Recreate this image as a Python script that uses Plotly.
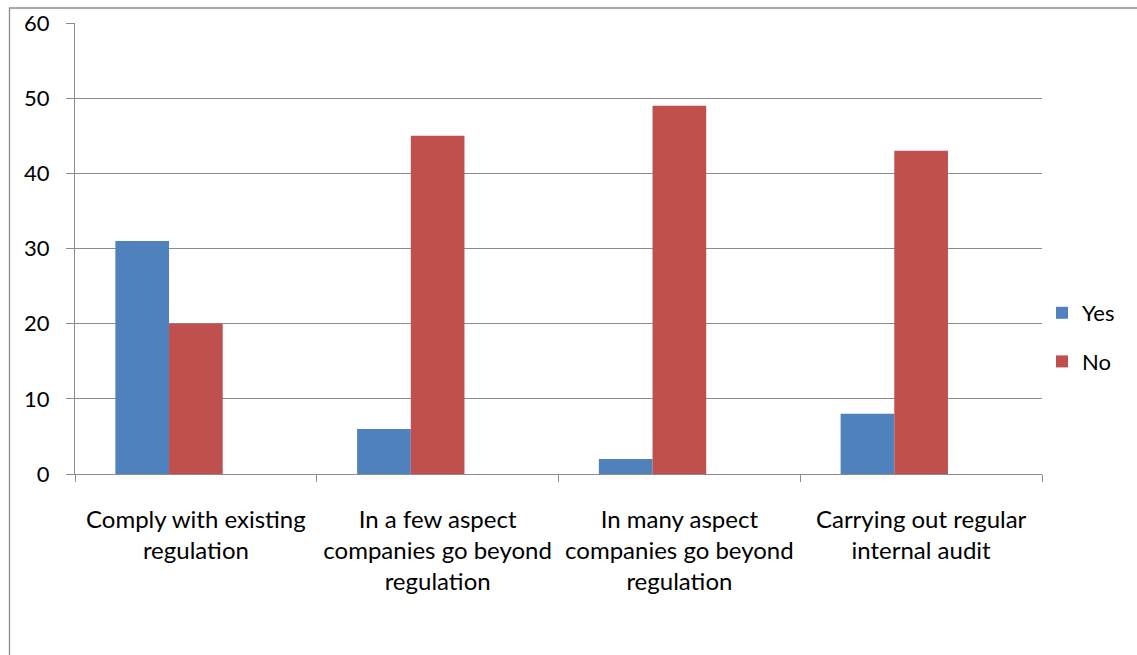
import plotly.graph_objects as go

categories = [
    "Comply with existing<br>regulation",
    "In a few aspect<br>companies go beyond<br>regulation",
    "In many aspect<br>companies go beyond<br>regulation",
    "Carrying out regular<br>internal audit",
]
yes_values = [31, 6, 2, 8]
no_values = [20, 45, 49, 43]
y_ticks = [0, 10, 20, 30, 40, 50, 60]

FONT = "Lato"
GRID = "#8c8c8c"

fig = go.Figure()
fig.add_trace(go.Bar(
    x=categories, y=yes_values, name="Yes", legendgroup="yes",
    marker=dict(color="#4F81BD", line=dict(width=0)),
    width=0.222, offset=-0.333,
))
fig.add_trace(go.Bar(
    x=categories, y=no_values, name="No", legendgroup="no",
    marker=dict(color="#C0504D", line=dict(width=0)),
    width=0.222, offset=-0.111,
))

W, H = 1137, 655
L, R, T, B = 75, 95, 23, 181
pw, ph = W - L - R, H - T - B

def px_x(p):
    return (p - L) / pw

def px_y(p):
    return (H - B - p) / ph

# outer chart-area frame
fig.add_shape(type="rect", xref="paper", yref="paper",
              x0=px_x(9.5), x1=px_x(1150), y0=px_y(8), y1=px_y(680),
              line=dict(color="#8c8c8c", width=1.3), layer="below")

fig.update_layout(
    width=W, height=H,
    margin=dict(l=L, r=R, t=T, b=B, autoexpand=False),
    paper_bgcolor="white", plot_bgcolor="white",
    barmode="overlay",
    font=dict(family=FONT, size=20, color="#000000"),
    showlegend=True,
    legend=dict(
        x=px_x(1042), y=px_y(292), xanchor="left", yanchor="top",
        traceorder="grouped", tracegroupgap=17,
        font=dict(family=FONT, size=22),
        itemwidth=30,
        bgcolor="rgba(0,0,0,0)",
    ),
    xaxis=dict(
        type="category",
        tickson="boundaries",
        ticks="outside", ticklen=7, tickcolor=GRID, tickwidth=1.3,
        showline=True, linecolor=GRID, linewidth=1.3,
        showgrid=False,
        ticklabelstandoff=24,
        tickangle=0,
        range=[-0.5, 3.5],
        tickfont=dict(family=FONT, size=24),
    ),
    yaxis=dict(
        range=[0, 60], tickvals=y_ticks,
        ticks="outside", ticklen=8, tickcolor=GRID, tickwidth=1.3,
        showline=True, linecolor=GRID, linewidth=1.3,
        showgrid=True, gridcolor=GRID, gridwidth=1.3,
        zeroline=False,
        ticklabelstandoff=12,
        tickfont=dict(family=FONT, size=22),
    ),
)

fig.write_html("out.html")
